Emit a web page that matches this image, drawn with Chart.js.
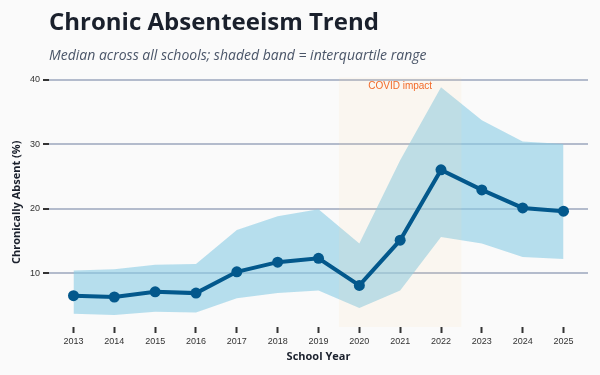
<!DOCTYPE html>
<html>
<head>
<meta charset="utf-8">
<script src="https://cdn.jsdelivr.net/npm/chart.js@4/dist/chart.umd.min.js"></script>
<style>
  html, body { margin: 0; padding: 0; background: #fafafa; }
  #wrap { width: 600px; height: 375px; }
</style>
</head>
<body>
<div id="wrap"><canvas id="c" width="600" height="375"></canvas></div>
<script>
// ---- data ----
const years = [2013, 2014, 2015, 2016, 2017, 2018, 2019, 2020, 2021, 2022, 2023, 2024, 2025];
const median = [6.5, 6.3, 7.1, 6.9, 10.2, 11.7, 12.3, 8.1, 15.1, 26.0, 22.9, 20.1, 19.6];
const q3 = [10.4, 10.6, 11.3, 11.4, 16.7, 18.8, 19.9, 14.6, 27.5, 38.8, 33.7, 30.4, 30.0];
const q1 = [3.7, 3.5, 4.0, 3.9, 6.1, 6.9, 7.3, 4.6, 7.3, 15.6, 14.6, 12.5, 12.2];
const yTicks = [10, 20, 30, 40];
const covidStart = 2019.5;
const covidEnd = 2022.5;
const covidLabel = 'COVID impact';

const pts = arr => arr.map((v, i) => ({ x: years[i], y: v }));

const bgPlugin = {
  id: 'bg',
  beforeDraw(chart) {
    const ctx = chart.ctx;
    ctx.save();
    ctx.fillStyle = '#fafafa';
    ctx.fillRect(0, 0, chart.width, chart.height);
    ctx.restore();
  }
};

const covidPlugin = {
  id: 'covid',
  afterDatasetDraw(chart, args) {
    if (args.index !== 1) return;
    const { ctx, chartArea, scales } = chart;
    const x0 = scales.x.getPixelForValue(covidStart);
    const x1 = scales.x.getPixelForValue(covidEnd);
    ctx.save();
    ctx.fillStyle = 'rgba(255, 215, 160, 0.11)';
    ctx.fillRect(x0, chartArea.top, x1 - x0, chartArea.bottom - chartArea.top);
    ctx.fillStyle = '#f26b2a';
    ctx.font = '10px "Liberation Sans", Arial, sans-serif';
    ctx.textAlign = 'center';
    ctx.textBaseline = 'middle';
    ctx.fillText(covidLabel, (x0 + x1) / 2, chartArea.top + 9);
    ctx.restore();
  }
};

new Chart(document.getElementById('c'), {
  type: 'line',
  data: {
    datasets: [
      {
        label: 'Median',
        data: pts(median),
        borderColor: '#03588c',
        backgroundColor: '#03588c',
        borderWidth: 4,
        pointRadius: 5.5,
        pointBorderWidth: 0,
        pointBackgroundColor: '#03588c',
        fill: false,
        tension: 0
      },
      {
        label: 'Q3',
        data: pts(q3),
        borderWidth: 0,
        pointRadius: 0,
        borderColor: 'rgba(0,0,0,0)',
        backgroundColor: 'rgba(137, 203, 228, 0.6)',
        fill: '+1',
        tension: 0
      },
      {
        label: 'Q1',
        data: pts(q1),
        borderWidth: 0,
        pointRadius: 0,
        borderColor: 'rgba(0,0,0,0)',
        fill: false,
        tension: 0
      }
    ]
  },
  options: {
    responsive: false,
    animation: false,
    layout: { padding: { left: 0, right: 12, top: 0, bottom: 0 } },
    plugins: {
      legend: { display: false },
      tooltip: { enabled: false },
      title: {
        display: true,
        text: 'Chronic Absenteeism Trend',
        align: 'start',
        fullSize: false,
        color: '#1a202c',
        font: { family: '"Open Sans", "Noto Sans", sans-serif', size: 24, weight: 'bold' },
        padding: { top: 9, bottom: 0 }
      },
      subtitle: {
        display: true,
        text: 'Median across all schools; shaded band = interquartile range',
        align: 'start',
        fullSize: false,
        color: '#4a5568',
        font: { family: '"Open Sans", "Noto Sans", sans-serif', size: 14, style: 'italic' },
        padding: { top: 10, bottom: 13 }
      }
    },
    scales: {
      x: {
        type: 'linear',
        min: 2012.4,
        max: 2025.6,
        afterBuildTicks: s => { s.ticks = years.map(v => ({ value: v })); },
        afterFit: s => { s.height = 48; },
        border: { display: false },
        grid: {
          drawOnChartArea: false,
          drawTicks: true,
          tickLength: 6,
          tickWidth: 2,
          tickColor: '#333'
        },
        ticks: {
          color: '#333',
          padding: 3,
          maxRotation: 0,
          autoSkip: false,
          font: { family: '"Liberation Sans", Arial, sans-serif', size: 9 },
          callback: v => String(v)
        },
        title: {
          display: true,
          text: 'School Year',
          color: '#1a202c',
          font: { family: '"Open Sans", "Noto Sans", sans-serif', size: 11, weight: 'bold' },
          padding: { top: 4, bottom: 12 }
        }
      },
      y: {
        min: 1.65,
        max: 40.3,
        afterBuildTicks: s => { s.ticks = yTicks.map(v => ({ value: v })); },
        afterFit: s => { s.width = 49; },
        border: { display: false },
        grid: {
          color: '#b3bbcc',
          lineWidth: 2,
          drawTicks: true,
          tickLength: 6,
          tickWidth: 2,
          tickColor: '#333'
        },
        ticks: {
          color: '#333',
          padding: 3,
          font: { family: '"Liberation Sans", Arial, sans-serif', size: 9 }
        },
        title: {
          display: true,
          text: 'Chronically Absent (%)',
          color: '#1a202c',
          font: { family: '"Open Sans", "Noto Sans", sans-serif', size: 11, weight: 'bold' },
          padding: { top: 10, bottom: 4 }
        }
      }
    }
  },
  plugins: [bgPlugin, covidPlugin]
});
</script>
</body>
</html>
